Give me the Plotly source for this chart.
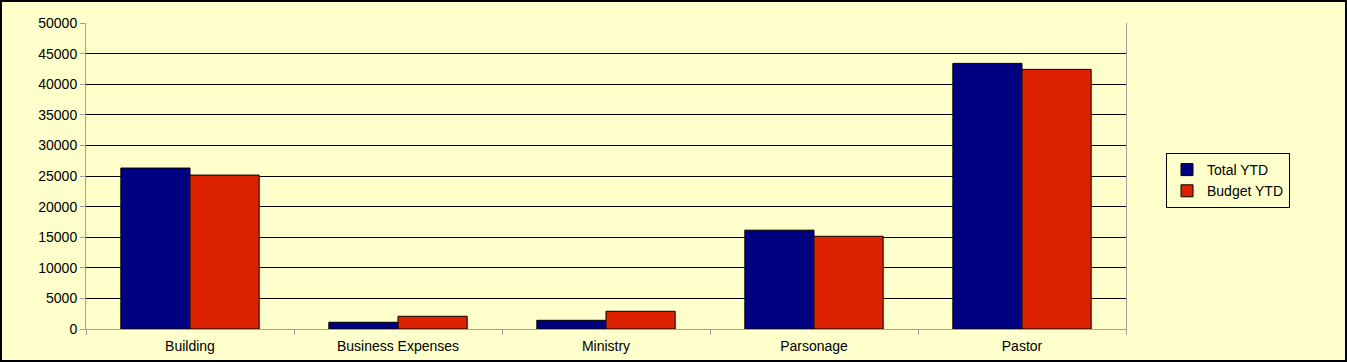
import plotly.graph_objects as go

categories = ["Building", "Business Expenses", "Ministry", "Parsonage", "Pastor"]
total_ytd = [26300, 1100, 1420, 16150, 43400]
budget_ytd = [25150, 2080, 2900, 15150, 42420]
y_ticks = [0, 5000, 10000, 15000, 20000, 25000, 30000, 35000, 40000, 45000, 50000]

BG = "#FFFFCC"
font = dict(family="Liberation Sans, Arial, sans-serif", size=14, color="#000000")

fig = go.Figure()
fig.add_trace(go.Bar(name="Total YTD", x=categories, y=total_ytd,
                     marker=dict(color="#000080", line=dict(color="#000000", width=1))))
fig.add_trace(go.Bar(name="Budget YTD", x=categories, y=budget_ytd,
                     marker=dict(color="#DD2200", line=dict(color="#000000", width=1))))

fig.update_layout(
    width=1347, height=362,
    margin=dict(l=86, r=221, t=23, b=33),
    paper_bgcolor=BG, plot_bgcolor=BG,
    font=font,
    barmode="group", bargap=0.335, bargroupgap=0,
    showlegend=True,
    legend=dict(x=(1228 - 86) / 1040, y=(329 - 180.5) / 306, xanchor="center", yanchor="middle",
                bgcolor=BG, bordercolor="#000000", borderwidth=1,
                font=font, tracegroupgap=0, itemwidth=30),
    xaxis=dict(showgrid=False, showline=True, linecolor="#A0A0A0", linewidth=1,
               ticks="outside", ticklen=5, tickcolor="#A0A0A0", tickson="boundaries",
               tickfont=font, ticklabelstandoff=4, automargin=False),
    yaxis=dict(range=[0, 50000], tickvals=y_ticks, tickformat="d", showgrid=True,
               gridcolor="#000000", gridwidth=1, showline=True, linecolor="#A0A0A0",
               linewidth=1, mirror=True, ticks="outside", ticklen=5, tickcolor="#A0A0A0",
               zeroline=False, tickfont=font, automargin=False),
)

fig.add_shape(type="rect", xref="paper", yref="paper",
              x0=-85 / 1040, x1=(1346 - 86) / 1040, y0=-32 / 306, y1=(329 - 1) / 306,
              line=dict(color="#000000", width=2), fillcolor="rgba(0,0,0,0)", layer="above")

fig.write_html("out.html", config={"displayModeBar": False},
               post_script="document.body.style.margin='0';document.body.style.padding='0';")
